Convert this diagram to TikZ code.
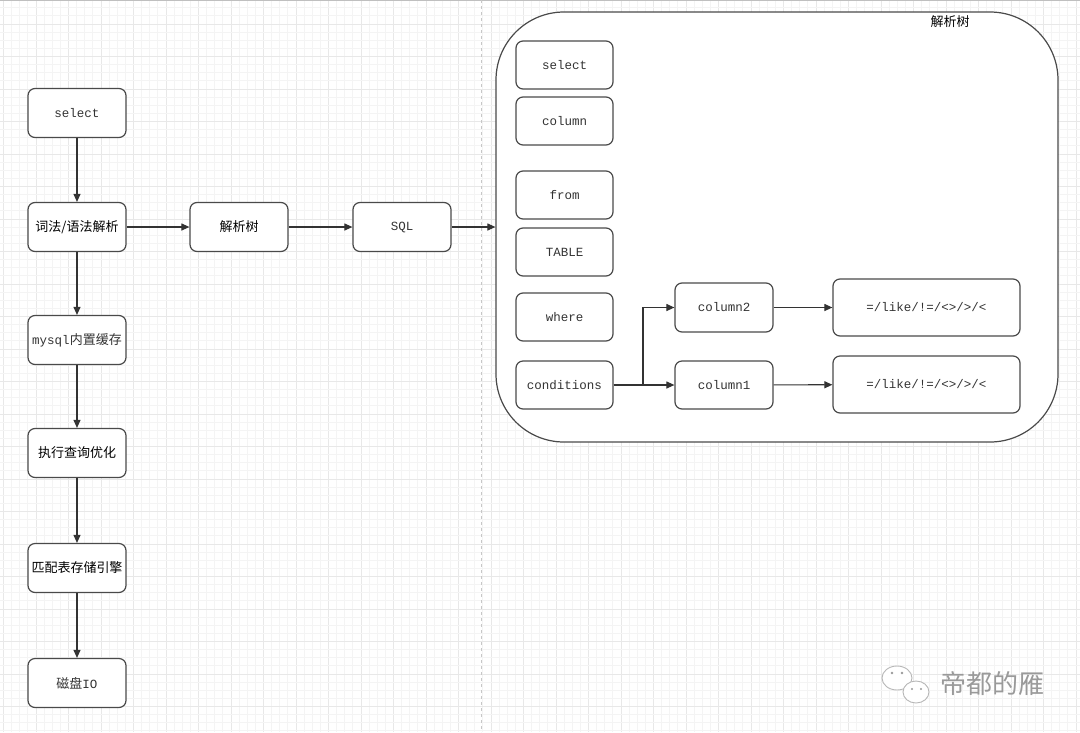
\documentclass[tikz,border=0pt]{standalone}
\usepackage{fontspec}
\setmainfont{Liberation Mono}
\newfontfamily\cjk{Noto Sans CJK SC}
\usetikzlibrary{arrows.meta,positioning}
\definecolor{gminor}{HTML}{F4F4F4}
\definecolor{gmajor}{HTML}{E8E8E8}
\definecolor{strokec}{HTML}{4A4A4A}
\definecolor{textc}{HTML}{333333}
\definecolor{wmark}{HTML}{9A9A9A}
\tikzset{
  box/.style={draw=strokec, line width=1.2pt, rounded corners=7pt, fill=white,
    minimum width=98pt, minimum height=49pt, inner sep=0pt,
    font=\fontsize{12.5}{14}\selectfont, text=textc},
  cbox/.style={box, font=\cjk\fontsize{13}{15}\selectfont, text=black},
  arr/.style={-{Triangle[length=8pt,width=7pt]}, line width=1.1pt, draw=black!80},
}
\begin{document}
\begin{tikzpicture}[x=1pt,y=-1pt]
\useasboundingbox (0,0) rectangle (1080,732);
\fill[white] (0,0) rectangle (1080,732);
% grid
\foreach \k in {0,...,133}{
  \pgfmathsetmacro{\xx}{3.5+8.125*\k}
  \pgfmathtruncatemacro{\m}{mod(\k,4)}
  \ifnum\m=0 \draw[gmajor, line width=1pt] (\xx,0) -- (\xx,732);
  \else \draw[gminor, line width=0.8pt] (\xx,0) -- (\xx,732); \fi
}
\foreach \k in {0,...,90}{
  \pgfmathsetmacro{\yy}{-0.375+8.125*\k}
  \pgfmathtruncatemacro{\m}{mod(\k,4)}
  \ifnum\m=3 \draw[gmajor, line width=1pt] (0,\yy) -- (1080,\yy);
  \else \draw[gminor, line width=0.8pt] (0,\yy) -- (1080,\yy); \fi
}
\draw[black!25, line width=1pt] (0,0.5) -- (1080,0.5);
\draw[black!22, line width=1pt, dash pattern=on 3pt off 3pt] (481,0) -- (481,732);

% left column
\node[box]  (sel)  at (77,113) {select};
\node[cbox] (lex)  at (77,227) {词法/语法解析};
\node[box]  (cache) at (77,340) {mysql{\cjk\fontsize{13}{15}\selectfont 内置缓存}};
\node[cbox] (opt)  at (77,453) {执行查询优化};
\node[cbox] (eng)  at (77,568) {匹配表存储引擎};
\node[box]  (disk) at (77,683) {{\cjk\fontsize{13}{15}\selectfont 磁盘}IO};

\draw[arr] (sel) -- (lex);
\draw[arr] (lex) -- (cache);
\draw[arr] (cache) -- (opt);
\draw[arr] (opt) -- (eng);
\draw[arr] (eng) -- (disk);

% middle
\node[cbox] (tree) at (239,227) {解析树};
\node[box]  (sql)  at (402,227) {SQL};
\draw[arr] (lex) -- (tree);
\draw[arr] (tree) -- (sql);

% big box
\node[draw=strokec, line width=1.2pt, rounded corners=68pt, fill=white,
      minimum width=562pt, minimum height=430pt, inner sep=0pt] (big) at (777,227) {};
\node[font=\cjk\fontsize{13}{15}\selectfont, text=black] (bigl) at (950,22) {解析树};
\draw[arr] (sql) -- (big.west);

\node[box, minimum width=97pt, minimum height=48pt] (isel) at (564.5,65) {select};
\node[box, minimum width=97pt, minimum height=48pt] (icol) at (564.5,121) {column};
\node[box, minimum width=97pt, minimum height=48pt] (ifrom) at (564.5,195) {from};
\node[box, minimum width=97pt, minimum height=48pt] (itab) at (564.5,252) {TABLE};
\node[box, minimum width=97pt, minimum height=48pt] (iwhere) at (564.5,317) {where};
\node[box, minimum width=97pt, minimum height=48pt] (icond) at (564.5,385) {conditions};
\node[box, minimum width=98pt, minimum height=49pt] (col2) at (724,307.5) {column2};
\node[box, minimum width=98pt, minimum height=48pt] (col1) at (724,385) {column1};
\node[box, minimum width=187pt, minimum height=57pt] (op2) at (926.5,307.5) {=/like/!=/<>/>/<};
\node[box, minimum width=187pt, minimum height=57pt] (op1) at (926.5,384.5) {=/like/!=/<>/>/<};

\coordinate (split) at (643,385);
\draw[arr] (icond.east) -- (split) |- (col2.west);
\draw[arr] (icond.east) -- (col1.west);
\draw[arr] (col2) -- (op2);
\draw[arr] (col1) -- (op1);

% watermark
\begin{scope}[draw=wmark!70, line width=0.9pt]
  \draw[fill=white] (897,678) ellipse (15pt and 12pt);
  \draw[fill=white] (916,692) ellipse (13pt and 11pt);
  \fill[wmark] (892,673) circle (1.3pt) (902,673) circle (1.3pt);
  \fill[wmark] (912,689) circle (1.2pt) (921,689) circle (1.2pt);
\end{scope}
\node[font=\cjk\fontsize{26}{29}\selectfont, text=wmark] (wm) at (992,684) {帝都的雁};
\end{tikzpicture}
\end{document}
